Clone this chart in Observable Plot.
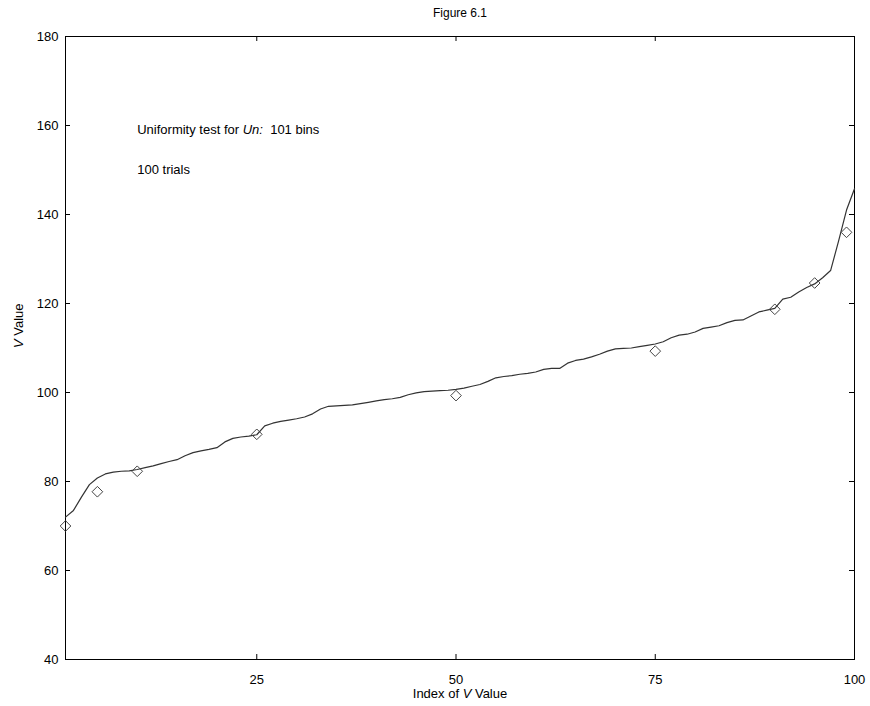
<!DOCTYPE html>
<html><head><meta charset="utf-8">
<script src="https://cdn.jsdelivr.net/npm/d3@7"></script>
<script src="https://cdn.jsdelivr.net/npm/@observablehq/plot@0.6"></script>
<style>
body{margin:0;background:#fff}
svg{font-family:"Liberation Sans",Arial,sans-serif}
</style>
</head><body><div id="chart"></div>
<script>
// Sorted V values, index 1..100
const vIndex = [
  1,2,3,4,5,6,7,8,9,10,11,12,13,14,15,16,17,18,19,20,
  21,22,23,24,25,26,27,28,29,30,31,32,33,34,35,36,37,38,39,40,
  41,42,43,44,45,46,47,48,49,50,51,52,53,54,55,56,57,58,59,60,
  61,62,63,64,65,66,67,68,69,70,71,72,73,74,75,76,77,78,79,80,
  81,82,83,84,85,86,87,88,89,90,91,92,93,94,95,96,97,98,99,100
];
const vValues = [
  72.0,73.5,76.5,79.3,80.8,81.7,82.1,82.3,82.4,82.7,
  83.1,83.5,84.0,84.5,84.9,85.8,86.5,86.9,87.2,87.6,
  88.9,89.7,90.0,90.2,90.5,92.5,93.1,93.5,93.8,94.1,
  94.5,95.2,96.3,96.9,97.0,97.1,97.2,97.5,97.8,98.1,
  98.4,98.6,98.9,99.5,99.9,100.2,100.3,100.4,100.5,100.7,
  101.0,101.4,101.8,102.5,103.3,103.6,103.8,104.1,104.3,104.6,
  105.2,105.4,105.4,106.6,107.2,107.5,108.0,108.6,109.3,109.8,
  109.9,110.0,110.3,110.6,110.9,111.4,112.3,112.9,113.1,113.6,
  114.4,114.7,115.0,115.7,116.2,116.3,117.2,118.1,118.5,118.9,
  121.0,121.4,122.6,123.6,124.4,125.8,127.4,134.0,141.0,145.8
];
// Expected values (diamonds)
const markerIndex  = [1, 5, 10, 25, 50, 75, 90, 95, 99];
const markerValues = [70.0, 77.7, 82.3, 90.6, 99.3, 109.3, 118.7, 124.6, 136.0];

const xTicks = [25, 50, 75, 100];
const yTicks = [40, 60, 80, 100, 120, 140, 160, 180];

const titleText = "Figure 6.1";
const xLabel = "Index of |V| Value";
const yLabel = "|V| Value";
const noteTexts = ["Uniformity test for |Un:|  101 bins", "100 trials"];
const noteX = [10, 10];
const noteY = [159, 150];

const W = 870, H = 706, mL = 65, mR = 16, mT = 36, mB = 47;
const innerW = W - mL - mR, innerH = H - mT - mB;

const series = vIndex.map((x, i) => ({x, y: vValues[i]}));
const markers = markerIndex.map((x, i) => ({x, y: markerValues[i]}));
const notes = noteTexts.map((t, i) => ({t, x: noteX[i], y: noteY[i]}));

const chart = Plot.plot({
  width: W, height: H,
  marginLeft: mL, marginRight: mR, marginTop: mT, marginBottom: mB,
  style: {fontFamily: '"Liberation Sans", Arial, sans-serif', fontSize: "13px", color: "#000", background: "#fff"},
  x: {domain: [1, 100]},
  y: {domain: [40, 180]},
  marks: [
    Plot.frame({stroke: "#000", strokeWidth: 1}),
    Plot.ruleX(xTicks, {x: d => d, insetTop: innerH - 5, stroke: "#000"}),
    Plot.ruleX(xTicks, {x: d => d, insetBottom: innerH - 5, stroke: "#000"}),
    Plot.ruleY(yTicks, {y: d => d, insetRight: innerW - 5, stroke: "#000"}),
    Plot.ruleY(yTicks, {y: d => d, insetLeft: innerW - 5, stroke: "#000"}),
    Plot.axisX(xTicks, {tickSize: 0, tickPadding: 15, fontSize: 13, label: null}),
    Plot.axisY(yTicks, {tickSize: 0, tickPadding: 7, fontSize: 13, label: null}),
    Plot.line(series, {x: "x", y: "y", stroke: "#333", strokeWidth: 1.2}),
    Plot.dot(markers, {x: "x", y: "y", symbol: "diamond2", r: 4.8, stroke: "#444", fill: "none", strokeWidth: 1}),
    Plot.text(notes, {x: "x", y: "y", text: "t", textAnchor: "start", fontSize: 13, fill: "#000"}),
    Plot.text([titleText], {text: d => d, frameAnchor: "top", dy: -28, fontSize: 12, fill: "#000"}),
    Plot.text([xLabel], {text: d => d, frameAnchor: "bottom", dy: 38, fontSize: 13, fill: "#000"}),
    Plot.text([yLabel], {text: d => d, frameAnchor: "left", dx: -47, rotate: -90, fontSize: 13, fill: "#000"})
  ]
});

// Convert |...| markers into italic tspans
chart.querySelectorAll("text").forEach(el => {
  const s = el.textContent;
  if (!s.includes("|")) return;
  const parts = s.split("|");
  el.textContent = "";
  el.setAttribute("xml:space", "preserve");
  parts.forEach((p, i) => {
    if (!p) return;
    const ts = document.createElementNS("http://www.w3.org/2000/svg", "tspan");
    ts.textContent = p;
    if (i % 2 === 1) ts.setAttribute("font-style", "italic");
    el.appendChild(ts);
  });
});

document.getElementById("chart").appendChild(chart);
</script>
</body></html>
